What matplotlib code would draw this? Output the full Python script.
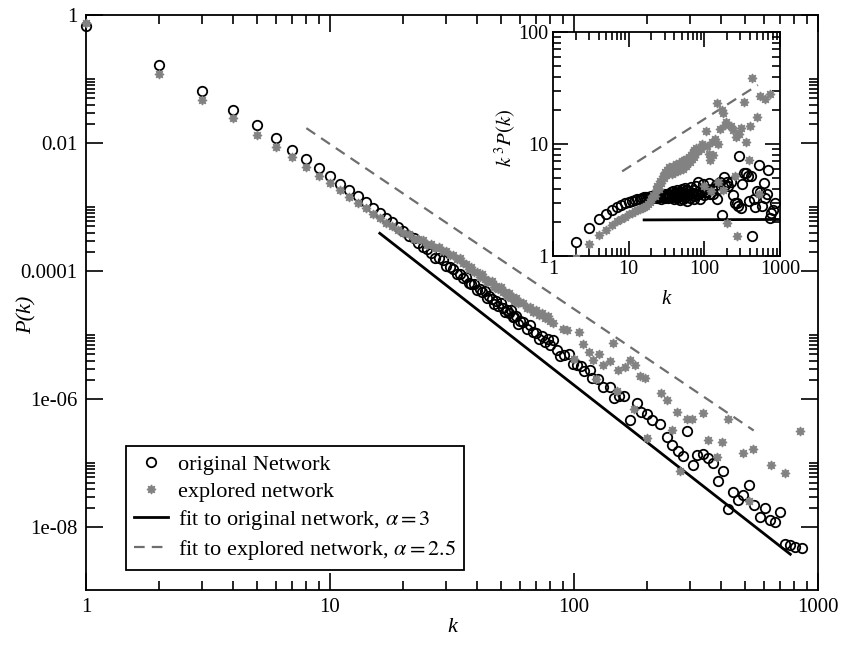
import numpy as np
import matplotlib
matplotlib.use("Agg")
import matplotlib.pyplot as plt
from matplotlib.ticker import FixedLocator, FixedFormatter, NullFormatter, LogLocator

plt.rcParams['font.family'] = ['Liberation Serif', 'DejaVu Serif']
plt.rcParams['mathtext.fontset'] = 'stix'
plt.rcParams['axes.unicode_minus'] = False

orig_k = list(range(1, 61)) + [62, 64, 66, 68, 70, 72, 74, 76, 78, 80,
          82, 85, 88, 91, 95, 99, 103, 107, 110, 116,
          119, 125, 132, 141, 146, 153, 160, 170, 181, 189,
          199, 208, 225, 240, 251, 268, 279, 291, 306, 318,
          339, 355, 372, 390, 409, 429, 450, 471, 494, 523,
          547, 578, 606, 636, 666, 699, 733, 768, 805, 857]
orig_k3p = [0.67, 1.33, 1.78, 2.12, 2.37, 2.56, 2.72, 2.84, 2.95, 3.02,
            3.10, 3.17, 3.22, 3.26, 3.30, 3.33, 3.35, 3.38, 3.36, 3.40,
            3.31, 3.45, 3.38, 3.28, 3.52, 3.36, 3.20, 3.47, 3.58, 3.30,
            3.42, 3.55, 3.28, 3.61, 3.40, 3.72, 3.35, 3.50, 3.80, 3.25,
            3.62, 3.45, 3.90, 3.30, 3.68, 3.52, 3.15, 3.75, 3.40, 3.95,
            3.58, 3.22, 3.70, 3.48, 4.05, 3.35, 3.62, 3.85, 3.10, 3.55,
            3.78, 3.30, 4.10, 3.50, 3.68, 3.20, 3.92, 3.45, 4.20, 3.60,
            4.6, 3.6, 3.2, 3.7, 4.4, 3.5, 3.7, 4.0, 3.7, 4.5,
            3.6, 4.0, 3.6, 4.3, 3.2, 4.0, 4.6, 2.3, 5.1, 4.3,
            4.6, 4.2, 4.6, 3.5, 3.0, 3.0, 2.8, 7.8, 2.7, 4.4,
            5.5, 5.5, 5.2, 3.1, 5.2, 1.5, 3.2, 2.75, 3.8, 6.5,
            3.7, 2.8, 4.5, 3.3, 3.6, 5.9, 2.2, 2.4, 2.6, 3.0]

expl_k = list(range(1, 61)) + [62, 64, 66, 68, 70, 72, 74, 76, 78, 80,
          82, 90, 94, 100, 105, 109, 115, 120, 123, 127,
          132, 140, 145, 150, 152, 162, 170, 176, 178, 186,
          195, 200, 227, 240, 251, 264, 272, 290, 304, 337,
          355, 384, 406, 429, 494, 521, 543, 640, 733, 844]
expl_k3p = [0.74, 0.96, 1.28, 1.55, 1.70, 1.88, 2.05, 2.15, 2.25, 2.35,
            2.42, 2.50, 2.56, 2.62, 2.68, 2.74, 2.80, 2.92, 3.05, 3.20,
            3.5, 3.4, 3.9, 4.2, 4.0, 4.7, 4.5, 5.2, 5.0, 5.6,
            5.3, 5.9, 5.5, 6.2, 5.7, 6.0, 5.4, 6.4, 5.8, 6.1,
            5.6, 6.6, 6.0, 5.7, 6.3, 6.8, 5.9, 6.5, 6.1, 7.0,
            6.2, 6.7, 6.0, 7.2, 6.4, 6.9, 6.3, 7.4, 6.6, 7.1,
            7.6, 6.9, 8.0, 7.3, 8.4, 7.7, 8.9, 8.1, 9.3, 8.6,
            8.7, 9.1, 9.9, 4.2, 13, 9.6, 8.2, 7.2, 3.8, 10.5,
            8.0, 11, 23, 4.6, 10, 13.5, 20, 3.9, 19, 14.8,
            15.7, 1.98, 14.6, 13.3, 5.2, 11.5, 1.5, 12.2, 14, 23.5,
            10.5, 7.2, 14.5, 39, 17.5, 3.6, 27, 25, 28, 190]

# power-law fit lines (end points in data units)
fit_orig_k = [16, 770]
fit_orig_p = [3.9e-4, 3.8e-9]
fit_expl_k = [8, 545]
fit_expl_p = [1.71e-2, 3.25e-7]
inset_fit_orig_k = [16, 1000]
inset_fit_orig_y = [2.1, 2.12]
inset_fit_expl_k = [8.2, 510]
inset_fit_expl_y = [5.7, 33.6]

x_ticks = [1, 10, 100, 1000]
x_tick_labels = ['1', '10', '100', '1000']
y_ticks = [1, 1e-2, 1e-4, 1e-6, 1e-8]
y_tick_labels = ['1', '0.01', '0.0001', '1e-06', '1e-08']
inset_y_ticks = [1, 10, 100]
inset_y_tick_labels = ['1', '10', '100']

ok = np.array(orig_k, dtype=float)
og = np.array(orig_k3p)
ek = np.array(expl_k, dtype=float)
eg = np.array(expl_k3p)
op = og / ok ** 3
ep = eg / ek ** 3

star = (8, 1, 0)
gray = '#828282'

fig = plt.figure(figsize=(8.44, 6.66), dpi=100)
ax = fig.add_axes([86 / 844, 1 - 590 / 666, 732 / 844, 575 / 666])

ax.plot(ok, op, ls='none', marker='o', ms=6.8, mfc='none', mec='black', mew=1.3,
        label='original Network', clip_on=False, zorder=3)
ax.plot(ek, ep, ls='none', marker=star, ms=6.5, color=gray, mec=gray,
        label='explored network', clip_on=False, zorder=4)
ax.plot(fit_orig_k, fit_orig_p, color='black', lw=2.0,
        label=r'fit to original network, $\alpha = 3$')
ax.plot(fit_expl_k, fit_expl_p, color='#6e6e6e', lw=1.6, dashes=(4.8, 3.2),
        label=r'fit to explored network, $\alpha = 2.5$')

ax.set_xscale('log')
ax.set_yscale('log')
ax.set_xlim(1, 1000)
ax.set_ylim(1.05e-9, 1)
ax.xaxis.set_major_locator(FixedLocator(x_ticks))
ax.xaxis.set_major_formatter(FixedFormatter(x_tick_labels))
ax.xaxis.set_minor_locator(LogLocator(base=10, subs=range(2, 10)))
ax.xaxis.set_minor_formatter(NullFormatter())
ax.yaxis.set_major_locator(FixedLocator(y_ticks))
ax.yaxis.set_major_formatter(FixedFormatter(y_tick_labels))
ax.yaxis.set_minor_locator(FixedLocator([m * 10.0 ** e for e in (-2, -4, -6, -8) for m in range(2, 11)]))
ax.yaxis.set_minor_formatter(NullFormatter())

ax.tick_params(which='both', direction='in', top=True, right=True, width=1.2,
               labelsize=15, pad=6)
ax.tick_params(which='major', length=12.5)
ax.tick_params(which='minor', length=6.5)
for s in ax.spines.values():
    s.set_linewidth(1.3)

ax.set_xlabel('k', style='italic', fontsize=16)
ax.xaxis.set_label_coords(0.5, (590 - 618) / 575)
ax.set_ylabel('P(k)', style='italic', fontsize=16)
ax.yaxis.set_label_coords((37 - 86) / 732, (590 - 315) / 575)

leg = ax.legend(loc='lower left', bbox_to_anchor=((126 - 86) / 732, (590 - 570) / 575),
                borderaxespad=0, fontsize=16, numpoints=1, handlelength=1.5,
                handletextpad=0.45, labelspacing=0.27, borderpad=0.38,
                fancybox=False, framealpha=1, edgecolor='black')
leg.get_frame().set_linewidth(1.3)

# inset: k^3 P(k)
ins = fig.add_axes([553 / 844, 1 - 256 / 666, 227 / 844, 224 / 666])
ins.set_facecolor('white')
ins.plot(ok, og, ls='none', marker='o', ms=6.8, mfc='none', mec='black', mew=1.3, zorder=3)
ins.plot(ek, eg, ls='none', marker=star, ms=6.5, color=gray, mec=gray, zorder=4)
ins.plot(inset_fit_orig_k, inset_fit_orig_y, color='black', lw=2.0)
ins.plot(inset_fit_expl_k, inset_fit_expl_y, color='#6e6e6e', lw=1.6, dashes=(4.8, 3.2))
ins.set_xscale('log')
ins.set_yscale('log')
ins.set_xlim(1, 1000)
ins.set_ylim(1, 100)
ins.xaxis.set_major_locator(FixedLocator(x_ticks))
ins.xaxis.set_major_formatter(FixedFormatter(x_tick_labels))
ins.xaxis.set_minor_locator(LogLocator(base=10, subs=range(2, 10)))
ins.xaxis.set_minor_formatter(NullFormatter())
ins.yaxis.set_major_locator(FixedLocator(inset_y_ticks))
ins.yaxis.set_major_formatter(FixedFormatter(inset_y_tick_labels))
ins.yaxis.set_minor_locator(LogLocator(base=10, subs=range(2, 10)))
ins.yaxis.set_minor_formatter(NullFormatter())
ins.tick_params(which='both', direction='in', top=True, right=True, width=1.2,
                labelsize=14.5, pad=3)
ins.tick_params(which='major', length=11)
ins.tick_params(which='minor', length=5.5)
for s in ins.spines.values():
    s.set_linewidth(1.3)
ins.set_xlabel('k', style='italic', fontsize=15)
ins.xaxis.set_label_coords(0.5, (256 - 290) / 224)
ins.set_ylabel(r'$k^{\,3}P(k)$', fontsize=15)
ins.yaxis.set_label_coords((518 - 553) / 227, (256 - 138) / 224)

fig.savefig('out.png', dpi=100)
